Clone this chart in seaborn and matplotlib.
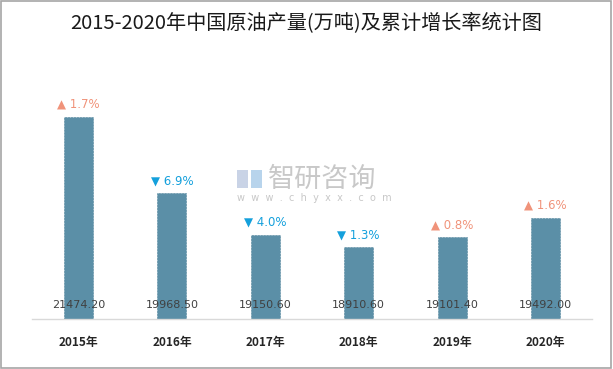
import matplotlib as mpl

mpl.use('Agg')
import matplotlib.pyplot as plt
from matplotlib.patches import Rectangle
import matplotlib.transforms as mtransforms
import seaborn as sns
import pandas as pd

sns.set_style("white")
plt.rcParams['font.family'] = ['Noto Sans CJK SC', 'DejaVu Sans']

years = ['2015年', '2016年', '2017年', '2018年', '2019年', '2020年']
output = [21474.20, 19968.50, 19150.60, 18910.60, 19101.40, 19492.00]
growth = [1.7, -6.9, -4.0, -1.3, 0.8, 1.6]

df = pd.DataFrame({'year': years, 'output': output, 'growth': growth})

bar_colour = '#5B8FA7'
up_colour = '#F0937A'
down_colour = '#14A0DC'

fig = plt.figure(figsize=(6.13, 3.69), dpi=100)
ax = fig.add_axes([0.052, 0.1355, 0.914, 0.69])

sns.barplot(data=df, x='year', y='output', color=bar_colour, width=0.31,
            saturation=1, ax=ax, edgecolor='#52859C', linewidth=0.4, linestyle='--')

ax.set_ylim(17500, 22500)
ax.set_xlim(-0.5, 5.5)
ax.set_xlabel('')
ax.set_ylabel('')
ax.set_yticks([])
for s in ['top', 'right', 'left']:
    ax.spines[s].set_visible(False)
ax.spines['bottom'].set_color('#D9D9D9')
ax.spines['bottom'].set_linewidth(1.0)
ax.tick_params(axis='x', length=0, pad=12)
for lbl in ax.get_xticklabels():
    lbl.set_fontsize(8.5)
    lbl.set_fontweight('bold')
    lbl.set_color('#262626')

# value labels near the bottom of each bar
trans = mtransforms.blended_transform_factory(ax.transData, ax.transAxes)
for i, v in enumerate(output):
    ax.text(i, 0.055, f'{v:.2f}', transform=trans, ha='center', va='center',
            fontsize=8, color='#404040', family=['DejaVu Sans'])

# growth markers above bars
for i, (v, g) in enumerate(zip(output, growth)):
    if g >= 0:
        sym, col = '▲', up_colour
    else:
        sym, col = '▼', down_colour
    ax.annotate(f'{sym} {abs(g):.1f}%', (i, v), xytext=(0, 9), textcoords='offset points',
                ha='center', va='center', fontsize=8.5, color=col,
                family=['DejaVu Sans'])

fig.text(0.5, 0.94, '2015-2020年中国原油产量(万吨)及累计增长率统计图',
         ha='center', va='center', fontsize=14.5, color='#1a1a1a')

# watermark
fig.text(0.437, 0.515, '智研咨询', ha='left', va='center', fontsize=19.5, color='#C8C8C8')
fig.text(0.387, 0.463, 'w  w  w  .  c  h  y  x  x  .  c  o  m', ha='left', va='center',
         fontsize=7, color='#C8C8C8', family=['DejaVu Sans'])
fig.patches.append(Rectangle((0.387, 0.49), 0.018, 0.05, transform=fig.transFigure,
                             facecolor='#C9D3E6', edgecolor='none'))
fig.patches.append(Rectangle((0.409, 0.49), 0.018, 0.05, transform=fig.transFigure,
                             facecolor='#B8D4EC', edgecolor='none'))

# outer border
fig.patches.append(Rectangle((0.002, 0.004), 0.994, 0.992, transform=fig.transFigure,
                             facecolor='none', edgecolor='#A6A6A6', linewidth=1.2))

fig.savefig('out.png', dpi=100)
